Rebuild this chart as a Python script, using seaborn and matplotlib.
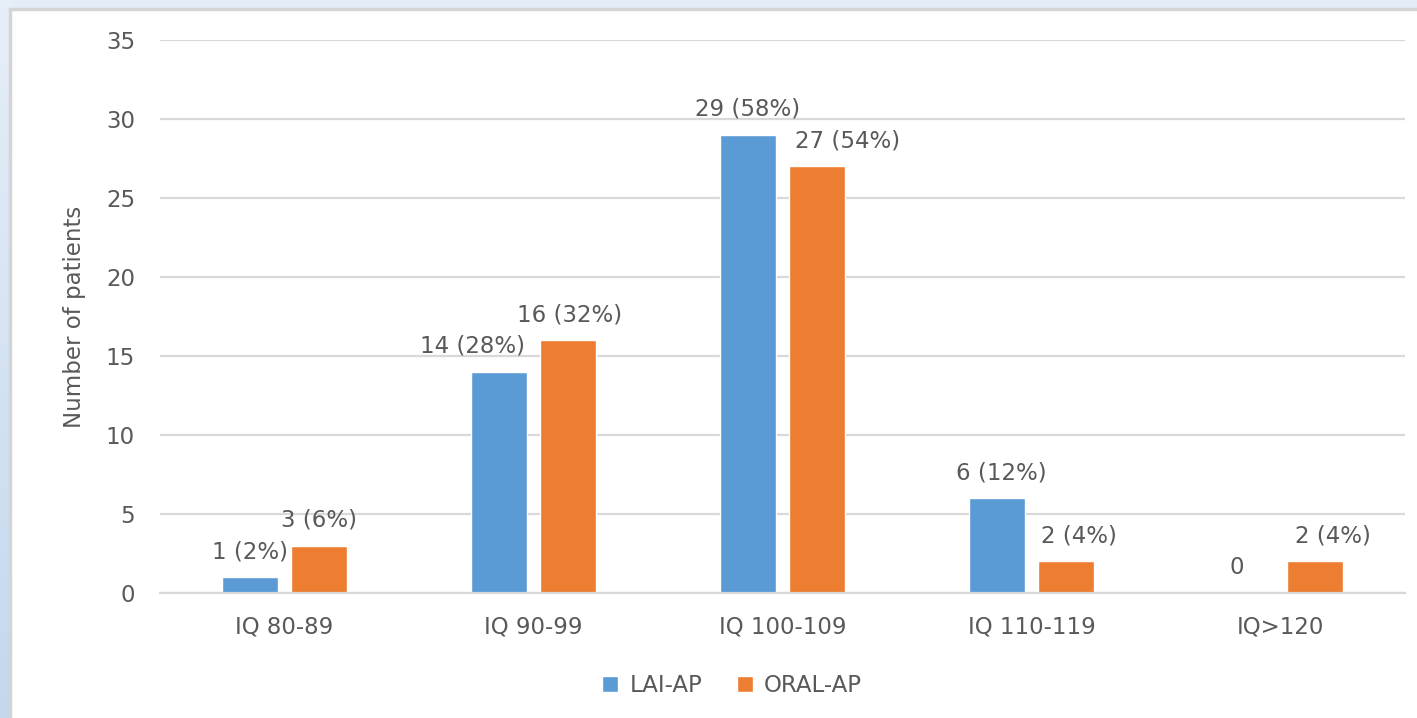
import numpy as np
import pandas as pd
import matplotlib
matplotlib.use("Agg")
import matplotlib.pyplot as plt
from matplotlib.patches import Rectangle
from matplotlib.colors import LinearSegmentedColormap
import seaborn as sns

categories = ["IQ 80-89", "IQ 90-99", "IQ 100-109", "IQ 110-119", "IQ>120"]
lai_ap = [1, 14, 29, 6, 0]
oral_ap = [3, 16, 27, 2, 2]
lai_pct = [2, 28, 58, 12, None]
oral_pct = [6, 32, 54, 4, 4]
series_names = ["LAI-AP", "ORAL-AP"]
y_ticks = [0, 5, 10, 15, 20, 25, 30, 35]

# horizontal nudges (pixels) for labels that would otherwise collide
lai_label_dx = [0, -26, 0, 5, -9]
oral_label_dx = [0, 1, 30, 13, 18]

BLUE = "#5B9BD5"
ORANGE = "#ED7D31"
TEXT = "#595959"
GRID = "#D9D9D9"
FS = 16.5

sns.set_theme(style="white")
plt.rcParams["font.family"] = ["DejaVu Sans"]

df = pd.DataFrame({
    "category": categories * 2,
    "series": [series_names[0]] * len(categories) + [series_names[1]] * len(categories),
    "value": lai_ap + oral_ap,
})

W, H = 1417, 718
fig = plt.figure(figsize=(W / 100, H / 100), dpi=100)
fig.patch.set_facecolor("#E4EDF7")

# soft blue gradient along the left edge
grad_ax = fig.add_axes([0, 0, 12 / W, 1], zorder=-3)
grad = np.linspace(0, 1, 200).reshape(-1, 1)
cmap = LinearSegmentedColormap.from_list("edge", ["#E6EEF8", "#C3D8EE"])
grad_ax.imshow(grad, aspect="auto", cmap=cmap, extent=[0, 1, 0, 1], origin="upper")
grad_ax.axis("off")

# white chart panel with a thin grey frame
panel = Rectangle((10 / W, -0.05), 1.05, 1 - 9 / H + 0.05, transform=fig.transFigure,
                  facecolor="white", edgecolor="#D4D4D4", linewidth=2.5, zorder=-2)
fig.patches.append(panel)

ax = fig.add_axes([160 / W, 1 - 593 / H, (1405 - 160) / W, (593 - 40) / H])
ax.set_facecolor("none")

sns.barplot(data=df, x="category", y="value", hue="series",
            palette=[BLUE, ORANGE], width=0.56, gap=0.2, ax=ax,
            saturation=1, legend=True)

ax.set_ylim(0, 35)
ax.set_xlim(-0.5, len(categories) - 0.5)
ax.set_yticks(y_ticks)
ax.yaxis.grid(True, color=GRID, linewidth=1.6)
ax.set_axisbelow(True)
for s in ["top", "right", "left"]:
    ax.spines[s].set_visible(False)
ax.spines["bottom"].set_color(GRID)
ax.spines["bottom"].set_linewidth(1.6)
ax.tick_params(axis="both", length=0, labelsize=FS, colors=TEXT)
ax.tick_params(axis="y", pad=18)
ax.tick_params(axis="x", pad=16)
ax.set_xlabel("")
ax.set_ylabel("Number of patients", fontsize=FS, color=TEXT, labelpad=14)

# value labels above each bar
containers = ax.containers
for cont, vals, pcts, dxs in [(containers[0], lai_ap, lai_pct, lai_label_dx),
                              (containers[1], oral_ap, oral_pct, oral_label_dx)]:
    for bar, v, p, dx in zip(cont.patches, vals, pcts, dxs):
        txt = f"{v} ({p}%)" if p is not None else f"{v}"
        ax.annotate(txt, (bar.get_x() + bar.get_width() / 2, bar.get_height()),
                    xytext=(dx * 0.72, 10), textcoords="offset points",
                    ha="center", va="bottom", fontsize=FS, color=TEXT)

# legend centred under the whole panel
leg_x = ax.transAxes.inverted().transform(fig.transFigure.transform((732 / W, 0)))[0]
leg = ax.legend(loc="upper center", bbox_to_anchor=(leg_x, -0.11), ncol=2, frameon=False,
                fontsize=FS, handlelength=0.7, handleheight=0.7, handletextpad=0.5,
                columnspacing=1.5, labelcolor=TEXT)

fig.savefig("out.png", dpi=100, facecolor=fig.get_facecolor())
